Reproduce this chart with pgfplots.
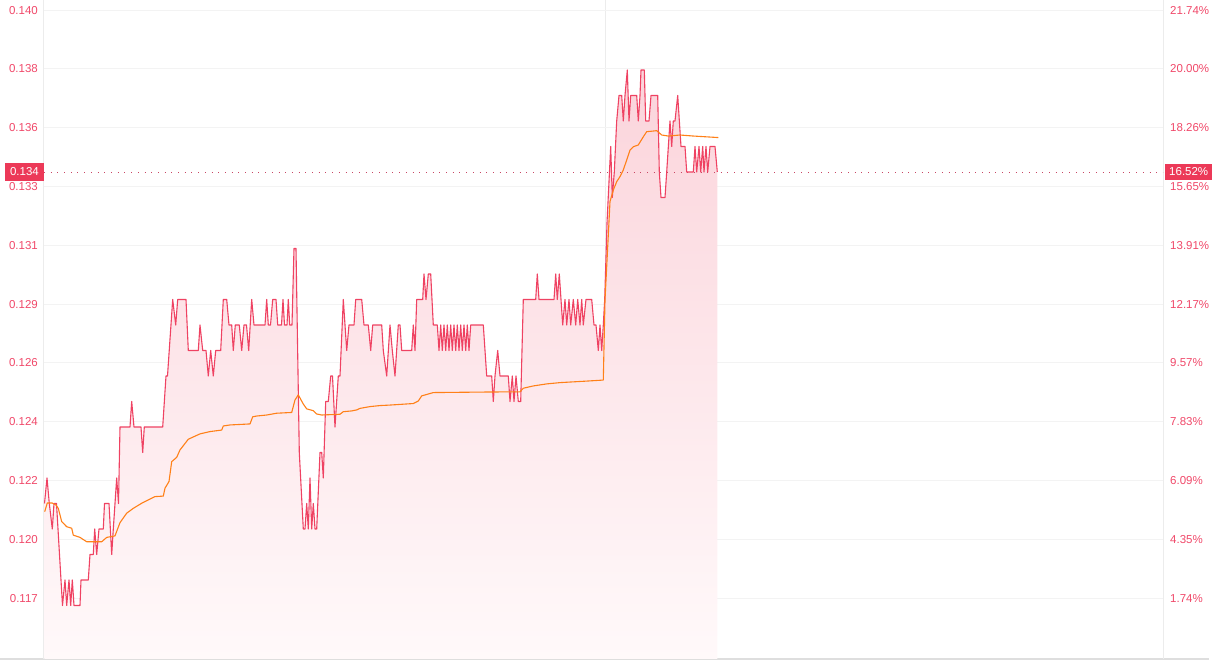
\documentclass[border=0pt]{standalone}
\usepackage{fontspec}
\setmainfont{Liberation Sans}
\usepackage{pgfplots}
\usepackage{pgfplotstable}
\pgfplotsset{compat=1.18}
\definecolor{redline}{RGB}{239,66,98}
\definecolor{labelc}{RGB}{240,72,105}
\definecolor{boxc}{RGB}{236,57,88}
\definecolor{avgc}{RGB}{255,128,24}
\definecolor{gridc}{RGB}{243,243,243}
\definecolor{vlinec}{RGB}{236,236,236}
\definecolor{bottomc}{RGB}{222,222,222}
\definecolor{filltop}{RGB}{251,212,219}
\definecolor{fillbot}{RGB}{255,249,250}
\definecolor{dotc}{RGB}{200,70,100}

\pgfplotstableread{
x y
44.5 0.121
47 0.122
49.3 0.121
52.3 0.120
54 0.121
56.5 0.121
62.5 0.117
65 0.118
66.7 0.117
69 0.118
70.7 0.117
72.3 0.118
74 0.117
80 0.117
81 0.118
88.3 0.118
90 0.119
93.3 0.119
94.7 0.120
96.7 0.119
99 0.120
103.3 0.120
104.5 0.121
109 0.121
111.7 0.119
113.3 0.120
116.7 0.122
118.5 0.121
120 0.124
130 0.124
131.7 0.125
134 0.124
141 0.124
142.7 0.123
144.3 0.124
162.7 0.124
166 0.126
167.5 0.126
172.7 0.129
175.7 0.128
177.7 0.129
186 0.129
188.3 0.127
198.3 0.127
200 0.128
202.7 0.127
206 0.127
208.3 0.126
210.7 0.127
213.3 0.126
215.7 0.127
220.7 0.127
223.3 0.129
226.7 0.129
229 0.128
231.7 0.128
233.3 0.127
235.3 0.128
239.3 0.128
241.7 0.127
244 0.128
246.5 0.128
248.7 0.127
251.7 0.129
254 0.128
265 0.128
266.7 0.129
268.3 0.128
270.5 0.128
272.7 0.129
276 0.129
277.7 0.128
281.5 0.128
283 0.129
284.5 0.128
287 0.128
288.3 0.129
289.7 0.128
292 0.128
294 0.131
296 0.131
299.3 0.123
303.3 0.120
305 0.120
306.7 0.121
308.3 0.120
310 0.122
311.7 0.120
313.3 0.121
315 0.120
316.7 0.120
320 0.123
321.7 0.123
323.3 0.122
325.7 0.125
328.3 0.125
330.7 0.126
332.5 0.126
335 0.124
338.3 0.126
340 0.126
343.3 0.129
346.7 0.127
349 0.128
354 0.128
355.7 0.129
361.7 0.129
364 0.128
368.3 0.128
370.7 0.127
372.7 0.128
381.7 0.128
383.3 0.127
386.7 0.126
390 0.128
392.3 0.127
395 0.126
398.3 0.128
400 0.128
401.7 0.127
411.7 0.127
413.3 0.128
415 0.127
416.7 0.129
422.7 0.129
424 0.130
426 0.129
428.3 0.130
430.7 0.130
433.3 0.128
437.3 0.128
439 0.127
440.7 0.128
442.3 0.127
444 0.128
445.7 0.127
447.3 0.128
449 0.127
450.7 0.128
452.3 0.127
454 0.128
455.7 0.127
457.3 0.128
459 0.127
460.7 0.128
462.3 0.127
464 0.128
465.7 0.127
467.3 0.128
469 0.127
470.7 0.128
483.3 0.128
486.7 0.126
491.7 0.126
493.3 0.125
495 0.126
497.7 0.127
500 0.126
508.3 0.126
510 0.125
512.3 0.126
514 0.125
516 0.126
518.3 0.125
520.7 0.125
523.3 0.129
535.7 0.129
537.3 0.130
539 0.129
554 0.129
555.7 0.130
557.3 0.129
559.3 0.130
561 0.129
562.7 0.128
565 0.129
566.7 0.128
569 0.129
570.7 0.128
573.3 0.129
575.7 0.128
577.7 0.129
580 0.128
581.7 0.129
583.3 0.128
586 0.129
591.7 0.129
594 0.128
596 0.128
598.3 0.127
600 0.128
601.7 0.127
603.3 0.128
604.7 0.129
607 0.132
610.7 0.135
612.3 0.133
614.3 0.134
616.7 0.136
619 0.137
621.7 0.137
623.3 0.136
625 0.137
627.3 0.138
629 0.136
630.7 0.137
636.7 0.137
638.3 0.136
640 0.137
641 0.138
644.3 0.138
645.7 0.136
649 0.136
651 0.137
657.7 0.137
659.3 0.134
661 0.133
665 0.133
666.7 0.134
670 0.136
671.7 0.135
673.3 0.136
675 0.136
677.7 0.137
681 0.135
685 0.135
686.7 0.134
693.3 0.134
695 0.135
696.7 0.134
699 0.135
700.7 0.134
702.7 0.135
704 0.134
706 0.135
707.7 0.134
710 0.135
715 0.135
717.3 0.134
}\redtab

\pgfplotstableread{
x y
44.7 0.12068
47.3 0.12102
52 0.12102
56 0.12094
58.3 0.12081
61.7 0.12029
66.7 0.12009
71.7 0.12003
73.3 0.11976
80 0.11967
86.7 0.11950
101.7 0.11950
106.7 0.11967
115 0.11973
120 0.12025
126.7 0.12062
133.3 0.12081
141.7 0.12101
148.3 0.12114
155 0.12127
163.3 0.12129
165 0.12160
169 0.12186
171.7 0.12264
176.7 0.12281
180 0.12310
188.3 0.12352
200 0.12373
210 0.12382
221.7 0.12388
223.3 0.12404
230 0.12408
250 0.12412
252.7 0.12440
256.7 0.12443
266.7 0.12447
276.7 0.12454
291.7 0.12457
295 0.12506
298.3 0.12526
303.3 0.12490
306.7 0.12471
313.3 0.12464
316.7 0.12451
321.7 0.12447
340 0.12450
343.3 0.12460
351.7 0.12463
356.7 0.12467
360 0.12473
370 0.12480
380 0.12484
390 0.12486
413.3 0.12492
418.3 0.12502
421.7 0.12522
433.3 0.12535
483.3 0.12537
520 0.12538
523.3 0.12552
533.3 0.12561
546.7 0.12569
560 0.12574
586.7 0.12580
603.3 0.12584
605 0.12898
610 0.13284
613.3 0.13329
616.7 0.13362
620 0.13382
623.3 0.13408
626.7 0.13447
630 0.13486
633.3 0.13499
638.3 0.13506
643.3 0.13538
646.7 0.13558
656.7 0.13562
661.7 0.13545
668.3 0.13541
680 0.13545
693.3 0.13541
718.3 0.13535
}\avgtab

\begin{document}
\begin{tikzpicture}[x=1pt,y=1pt]
\useasboundingbox (0,0) rectangle (1213,663);
\draw[bottomc, line width=1.2pt] (0,4) -- (1209,4);
\begin{axis}[
  at={(44pt,4pt)}, anchor=south west,
  scale only axis, width=1119pt, height=659pt,
  xmin=44, xmax=1163, ymin=0.114902, ymax=0.140745,
  axis line style={draw=none},
  xtick={44,605,1163}, xticklabel=\empty,
  ytick={0.14035,0.138044,0.135738,0.133432,0.131126,0.12882,0.126514,0.124208,0.121902,0.119596,0.11729},
  yticklabels={0.140,0.138,0.136,0.133,0.131,0.129,0.126,0.124,0.122,0.120,0.117},
  xmajorgrids, ymajorgrids,
  x grid style={vlinec, line width=1pt},
  y grid style={gridc, line width=1pt},
  major tick length=0pt, tick style={draw=none},
  yticklabel style={font=\fontsize{11.5}{12}\selectfont, text=labelc, inner sep=0pt, anchor=east, xshift=-6pt},
  scaled y ticks=false,
]
\addplot[draw=none, top color=filltop, bottom color=fillbot, forget plot]
  table[x=x,y=y] {\redtab} -- (axis cs:717.3,0.114902) -- (axis cs:44.5,0.114902) -- cycle;
\addplot[dotc, line width=0.9pt, dash pattern=on 0.9pt off 5.8pt, forget plot]
  coordinates {(44,0.134) (1163,0.134)};
\addplot[redline, line width=1.1pt, line join=round, forget plot] table[x=x,y=y] {\redtab};
\addplot[avgc, line width=1.1pt, line join=round, forget plot] table[x=x,y=y] {\avgtab};
\coordinate (L) at (axis cs:44,0.134);
\coordinate (R) at (axis cs:1163,0.134);
\end{axis}
\begin{axis}[
  at={(44pt,4pt)}, anchor=south west,
  scale only axis, width=1119pt, height=659pt,
  xmin=44, xmax=1163, ymin=0.114902, ymax=0.140745,
  axis line style={draw=none},
  xtick=\empty,
  ytick={0.14035,0.138044,0.135738,0.133432,0.131126,0.12882,0.126514,0.124208,0.121902,0.119596,0.11729},
  yticklabels={21.74\%,20.00\%,18.26\%,15.65\%,13.91\%,12.17\%,9.57\%,7.83\%,6.09\%,4.35\%,1.74\%},
  yticklabel pos=right,
  major tick length=0pt, tick style={draw=none},
  yticklabel style={font=\fontsize{11.5}{12}\selectfont, text=labelc, inner sep=0pt, anchor=west, xshift=7pt},
  scaled y ticks=false,
]
\addplot[draw=none, forget plot] coordinates {(44,0.12)};
\end{axis}
\node[fill=boxc, text=white, anchor=east, inner xsep=5pt, inner ysep=0pt, minimum height=17.5pt, font=\fontsize{11.5}{12}\selectfont] at (L) {0.134};
\node[fill=boxc, text=white, anchor=west, inner xsep=4pt, inner ysep=0pt, minimum height=16.5pt, font=\fontsize{11.5}{12}\selectfont] at ([xshift=2pt]R) {16.52\%};
\end{tikzpicture}
\end{document}
